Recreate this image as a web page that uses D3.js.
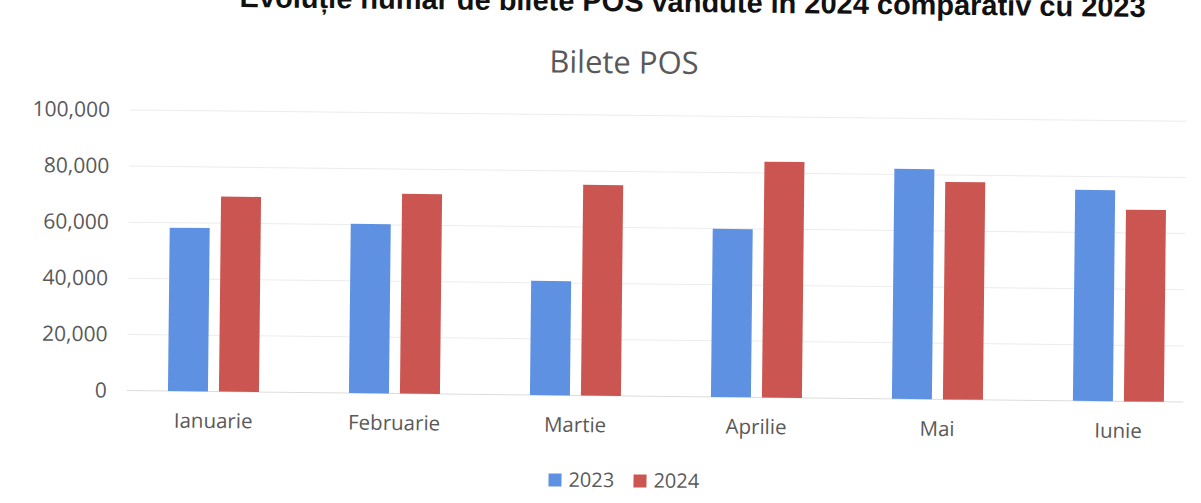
<!DOCTYPE html>
<html lang="ro">
<head>
    <meta charset="UTF-8">
    <title>Bilete POS</title>
    <style>
        body { margin: 0; background: #fff; }
        svg { display: block; }
        .tick text { font-family: "Open Sans", Lato, sans-serif; fill: #595959; }
    </style>
</head>
<body>
<svg></svg>
<script src="https://d3js.org/d3.v7.min.js"></script>
<script>
    /* data */
    const months = ["Ianuarie", "Februarie", "Martie", "Aprilie", "Mai", "Iunie"];
    const series = ["2023", "2024"];
    const values2023 = [58200, 60300, 40700, 59900, 82000, 75200];
    const values2024 = [69500, 71200, 75100, 84000, 77500, 68300];
    const yTicks = [0, 20000, 40000, 60000, 80000, 100000];

    /* layout */
    const width = 1201;
    const height = 503;
    const plotLeft = 124.5, plotRight = 1210.5;
    const plotTop = 115, plotBottom = 395.7;
    const barWidth = 40;
    const barGap = 11;
    const colors = {"2023": "#5f91e2", "2024": "#cb5651"};

    const svg = d3.select("svg")
        .attr("width", width)
        .attr("height", height);

    /* the scan is tilted a little */
    const page = svg.append("g")
        .attr("transform", "rotate(0.62, 600, 250)");

    // heading, cut off at the top edge like in the scan
    page.append("text")
        .attr("x", 1143)
        .attr("y", 11)
        .attr("text-anchor", "end")
        .attr("textLength", 906)
        .attr("lengthAdjust", "spacingAndGlyphs")
        .style("font-family", "'Liberation Sans', Arial, sans-serif")
        .style("font-weight", "bold")
        .style("font-size", "29px")
        .style("fill", "#111")
        .text("Evoluție număr de bilete POS vândute în 2024 comparativ cu 2023");

    page.append("text")
        .attr("x", 622)
        .attr("y", 73)
        .attr("text-anchor", "middle")
        .style("font-family", "'Open Sans', Lato, sans-serif")
        .style("font-size", "31px")
        .style("fill", "#595959")
        .text("Bilete POS");

    const x = d3.scaleBand().domain(months).range([plotLeft, plotRight]);
    const y = d3.scaleLinear().domain([0, 100000]).range([plotBottom, plotTop]);

    /* y labels */
    const yAxis = page.append("g")
        .attr("transform", `translate(${plotLeft + 4},0)`)
        .call(d3.axisLeft(y).tickValues(yTicks).tickFormat(d3.format(",")).tickSize(0).tickPadding(20));
    yAxis.select(".domain").remove();
    yAxis.selectAll(".tick text").style("font-size", "21px");

    /* gridlines */
    page.append("g").selectAll("line").data(yTicks).enter().append("line")
        .attr("x1", plotLeft + 4)
        .attr("x2", 1185)
        .attr("y1", (d) => y(d))
        .attr("y2", (d) => y(d))
        .attr("stroke", (d) => d === 0 ? "#dcdcdc" : "#ececec")
        .attr("stroke-width", 1);

    /* bars */
    const rows = months.map((m, i) => ({month: m, "2023": values2023[i], "2024": values2024[i]}));
    const groups = page.selectAll(".grp").data(rows).enter().append("g")
        .attr("class", "grp")
        .attr("transform", (d) => `translate(${x(d.month) + x.bandwidth() / 2},0)`);
    groups.selectAll("rect").data((d) => series.map((s) => ({s, v: d[s]}))).enter().append("rect")
        .attr("x", (d, i) => i === 0 ? -barWidth - barGap / 2 : barGap / 2)
        .attr("y", (d) => y(d.v))
        .attr("width", barWidth)
        .attr("height", (d) => y(0) - y(d.v))
        .attr("fill", (d) => colors[d.s]);

    /* x labels */
    const xAxis = page.append("g")
        .attr("transform", `translate(0,${plotBottom})`)
        .call(d3.axisBottom(x).tickSize(0).tickPadding(22));
    xAxis.select(".domain").remove();
    xAxis.selectAll(".tick text").style("font-size", "20.5px");

    /* legend */
    const legend = page.append("g").attr("transform", "translate(551,480)");
    const items = legend.selectAll("g").data(series).enter().append("g")
        .attr("transform", (d, i) => `translate(${i * 85},0)`);
    items.append("rect")
        .attr("x", 0).attr("y", -6)
        .attr("width", 13).attr("height", 13)
        .attr("fill", (d) => colors[d]);
    items.append("text")
        .attr("x", 20).attr("y", 7)
        .style("font-family", "'Open Sans', Lato, sans-serif")
        .style("font-size", "20px")
        .style("fill", "#595959")
        .text((d) => d);
</script>
</body>
</html>
